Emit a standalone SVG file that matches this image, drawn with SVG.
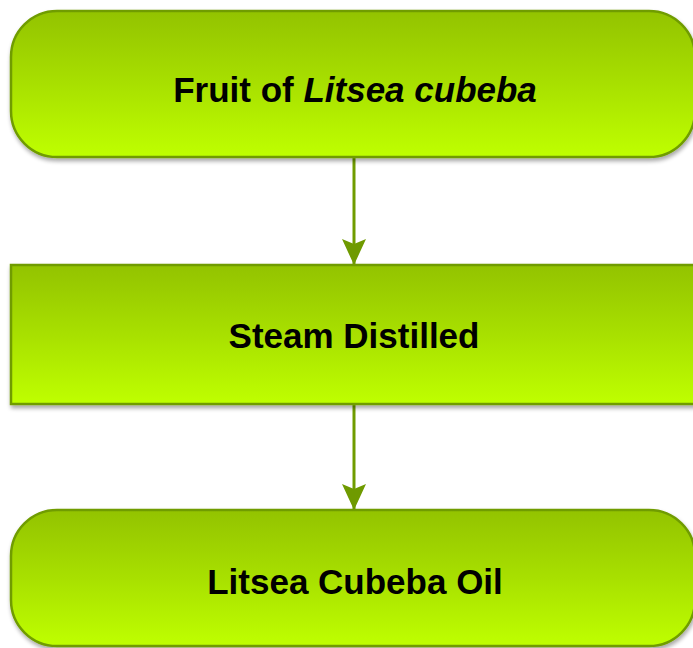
<svg xmlns="http://www.w3.org/2000/svg" width="693" height="648" viewBox="0 0 693 648">
<defs>
<linearGradient id="g" x1="0" y1="0" x2="0" y2="1">
<stop offset="0" stop-color="#93c300"/>
<stop offset="0.5" stop-color="#a8e000"/>
<stop offset="1" stop-color="#bfff00"/>
</linearGradient>
<filter id="sh" x="-5%" y="-5%" width="110%" height="120%">
<feGaussianBlur in="SourceAlpha" stdDeviation="2"/>
<feOffset dx="1" dy="3"/>
<feComponentTransfer><feFuncA type="linear" slope="0.35"/></feComponentTransfer>
<feMerge><feMergeNode/><feMergeNode in="SourceGraphic"/></feMerge>
</filter>
<marker id="ah" markerWidth="26" markerHeight="24" refX="25" refY="12" orient="auto" markerUnits="userSpaceOnUse" viewBox="0 0 26 24">
<path d="M0,0 L26,12 L0,24 L5,12 Z" fill="#6f9a00"/>
</marker>
</defs>
<style>
.box{fill:url(#g);stroke:#709c00;stroke-width:2.5;filter:url(#sh)}
.t{font-family:"Liberation Sans",Arial,sans-serif;font-weight:bold;font-size:35px;fill:#000;text-anchor:middle}
.c{stroke:#709c00;stroke-width:3;fill:none}
</style>
<g id="connectors">
<line class="c" x1="354" y1="158" x2="354" y2="264" marker-end="url(#ah)"/>
<line class="c" x1="354" y1="404" x2="354" y2="509" marker-end="url(#ah)"/>
</g>
<g id="node1">
<rect class="box" x="11" y="11" width="684" height="146" rx="46" ry="46"/>
<text class="t" x="355" y="102">Fruit of <tspan font-style="italic">Litsea cubeba</tspan></text>
</g>
<g id="node2">
<rect class="box" x="11" y="265" width="684" height="139"/>
<text class="t" x="354" y="348">Steam Distilled</text>
</g>
<g id="node3">
<rect class="box" x="11" y="510" width="684" height="136" rx="46" ry="46"/>
<text class="t" x="355" y="594">Litsea Cubeba Oil</text>
</g>
</svg>
